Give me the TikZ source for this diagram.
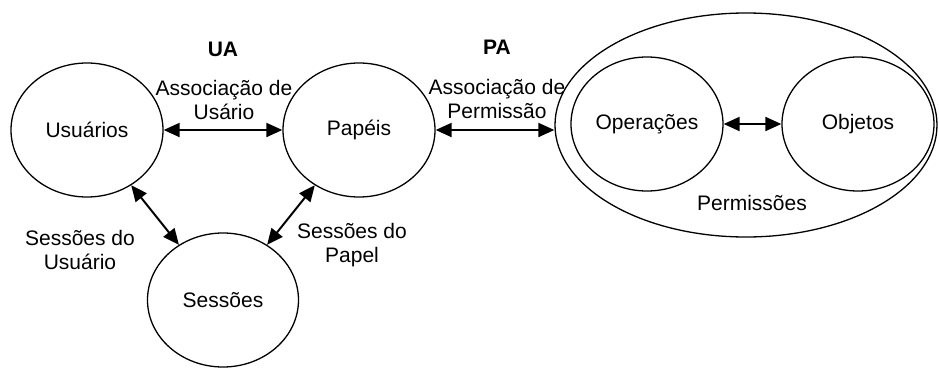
\documentclass[tikz,border=0pt]{standalone}
\usepackage{fontspec}
\setmainfont{Liberation Sans}
\usetikzlibrary{shapes.geometric,arrows.meta}
\tikzset{
  conjunto/.style={draw, ellipse, line width=0.65pt, inner sep=0pt, minimum width=76pt, minimum height=67pt},
  relacao/.style={{Triangle[length=8pt,width=7pt]}-{Triangle[length=8pt,width=7pt]}, line width=1pt},
  rotulo/.style={align=center},
  negrito/.style={font=\fontsize{10.5}{12}\selectfont\bfseries}
}
\begin{document}
\begin{tikzpicture}[x=0.5pt, y=-0.5pt, font=\fontsize{10.5}{12}\selectfont]
    \useasboundingbox (0,0) rectangle (939,370);

    % Conjuntos
    \node[conjunto] (usu) at (87,130) {Usuários};
    \node[conjunto] (pap) at (359,130) {Papéis};
    \node[conjunto, minimum width=75.5pt] (ses) at (223,300) {Sessões};
    \node[conjunto, minimum width=191pt, minimum height=112pt] (perm) at (746,125) {};
    \node[conjunto] (oper) at (647,124) {Operações};
    \node[conjunto] (obj) at (858,124) {Objetos};

    % Relações
    \draw[relacao] (usu) -- (pap);
    \draw[relacao] (pap) -- (pap -| perm.west);
    \draw[relacao] (oper) -- (obj);
    \draw[relacao] (usu) -- (ses);
    \draw[relacao] (pap) -- (ses);

    % Rótulos
    \node[negrito] (ua) at (223,49) {UA};
    \node[negrito] (pa) at (497,47) {PA};
    \node[rotulo] (assusu) at (224,100) {Associação de\\Usário};
    \node[rotulo] (assperm) at (497,99) {Associação de\\Permissão};
    \node[rotulo] (sesusu) at (80,250) {Sessões do\\Usuário};
    \node[rotulo] (sespap) at (352,245) {Sessões do\\Papel};
    \node (permissoes) at (752,203) {Permissões};
\end{tikzpicture}
\end{document}
